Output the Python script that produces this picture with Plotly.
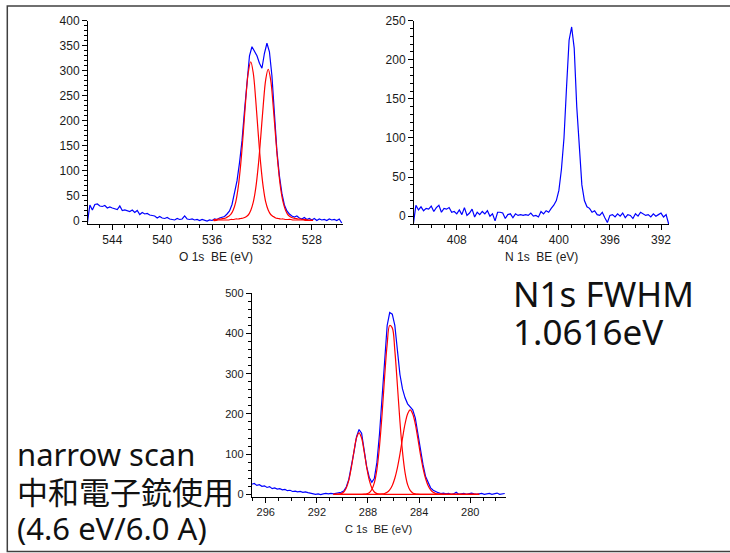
import plotly.graph_objects as go

# ---- O 1s narrow scan (BE in eV, counts) ----
o1s_be = [546.0, 545.8, 545.6, 545.4, 545.2, 545.0, 544.8, 544.6, 544.4, 544.2,
          544.0, 543.8, 543.6, 543.4, 543.2, 543.0, 542.8, 542.6, 542.4, 542.2,
          542.0, 541.8, 541.6, 541.4, 541.2, 541.0, 540.8, 540.6, 540.4, 540.2,
          540.0, 539.8, 539.6, 539.4, 539.2, 539.0, 538.8, 538.6, 538.4, 538.2,
          538.0, 537.8, 537.6, 537.4, 537.2, 537.0, 536.8, 536.6, 536.4, 536.2,
          536.0, 535.8, 535.6, 535.4, 535.2, 535.0, 534.8, 534.6, 534.4, 534.2,
          534.0, 533.8, 533.6, 533.4, 533.2, 533.0, 532.8, 532.6, 532.4, 532.2,
          532.0, 531.8, 531.6, 531.4, 531.2, 531.0, 530.8, 530.6, 530.4, 530.2,
          530.0, 529.8, 529.6, 529.4, 529.2, 529.0, 528.8, 528.6, 528.4, 528.2,
          528.0, 527.8, 527.6, 527.4, 527.2, 527.0, 526.8, 526.6, 526.4, 526.2,
          526.0, 525.8, 525.6]
o1s_cps = [-4, 32, 22, 33, 34, 30, 29, 31, 26, 28,
           26, 24, 23, 30, 21, 22, 20, 19, 22, 17,
           21, 13, 17, 14, 15, 12, 11, 10, 6, 9,
           6, 5, 7, 4, 3, 2, 5, 3, 4, 10,
           4, 3, 4, 2, 3, 1, 3, 2, 0, 2,
           1, 4, 3, 6, 7, 9, 14, 20, 33, 55,
           80, 116, 160, 220, 280, 330, 348, 340, 330, 315,
           305, 335, 355, 338, 290, 215, 140, 90, 55, 32,
           20, 14, 10, 8, 10, 6, 4, 7, 3, 5,
           2, 5, 1, 4, 2, 3, 1, 4, 2, 3,
           1, 4, -4]

o1s_fit_be = [535.9, 535.7, 535.5, 535.3, 535.1, 534.9, 534.7, 534.5, 534.3, 534.1,
              533.9, 533.7, 533.5, 533.3, 533.1, 532.9, 532.7, 532.5, 532.3, 532.1,
              531.9, 531.7, 531.5, 531.3, 531.1, 530.9, 530.7, 530.5, 530.3, 530.1,
              529.9, 529.7, 529.5, 529.3, 529.1, 528.9, 528.7, 528.5, 528.3, 528.1,
              527.9]
o1s_fit_1 = [3, 3, 4, 4, 5, 6, 9, 13, 22, 38,
             68, 114, 175, 242, 296, 318, 296, 242, 175, 114,
             68, 38, 22, 13, 9, 6, 5, 4, 4, 3,
             3, 3, 2, 2, 2, 2, 2, 1, 1, 1,
             1]
o1s_fit_2 = [1, 1, 2, 2, 2, 2, 2, 3, 3, 4,
             4, 5, 6, 8, 12, 21, 37, 65, 109, 167,
             230, 282, 303, 282, 230, 167, 109, 65, 37, 21,
             12, 8, 6, 5, 4, 4, 3, 3, 2, 2,
             2]

# ---- N 1s narrow scan ----
n1s_be = [411.4, 411.2, 411.0, 410.8, 410.6, 410.4, 410.2, 410.0, 409.8, 409.6,
          409.4, 409.2, 409.0, 408.8, 408.6, 408.4, 408.2, 408.0, 407.8, 407.6,
          407.4, 407.2, 407.0, 406.8, 406.6, 406.4, 406.2, 406.0, 405.8, 405.6,
          405.4, 405.2, 405.0, 404.8, 404.6, 404.4, 404.2, 404.0, 403.8, 403.6,
          403.4, 403.2, 403.0, 402.8, 402.6, 402.4, 402.2, 402.0, 401.8, 401.6,
          401.4, 401.2, 401.0, 400.8, 400.6, 400.4, 400.2, 400.0, 399.8, 399.6,
          399.4, 399.2, 399.0, 398.8, 398.6, 398.4, 398.2, 398.0, 397.8, 397.6,
          397.4, 397.2, 397.0, 396.8, 396.6, 396.4, 396.2, 396.0, 395.8, 395.6,
          395.4, 395.2, 395.0, 394.8, 394.6, 394.4, 394.2, 394.0, 393.8, 393.6,
          393.4, 393.2, 393.0, 392.8, 392.6, 392.4, 392.2, 392.0, 391.8, 391.6,
          391.4]
n1s_cps = [-10, 14, 8, 12, 7, 10, 9, 13, 6, 11,
           14, 5, 10, 9, 11, 5, 6, 3, 8, 2,
           11, 1, 4, 9, -1, 5, 2, 6, 3, 7,
           0, 3, -6, 5, 5, 4, -3, 2, 3, -2,
           3, 1, 2, 1, 2, 1, 4, 0, 1, -1,
           6, 3, 7, 5, 10, 14, 20, 33, 60, 100,
           165, 225, 242, 215, 140, 82, 40, 20, 12, 10,
           5, 7, 2, 1, 5, -2, -8, 1, 2, -1,
           3, 0, 4, -2, 2, 1, -3, 3, 0, 5,
           3, 1, 2, -1, 3, 0, 2, 4, -1, 2,
           -10]

# ---- C 1s narrow scan ----
c1s_be = [297.1, 296.9, 296.7, 296.5, 296.3, 296.1, 295.9, 295.7, 295.5, 295.3,
          295.1, 294.9, 294.7, 294.5, 294.3, 294.1, 293.9, 293.7, 293.5, 293.3,
          293.1, 292.9, 292.7, 292.5, 292.3, 292.1, 291.9, 291.7, 291.5, 291.3,
          291.1, 290.9, 290.7, 290.5, 290.3, 290.1, 289.9, 289.7, 289.5, 289.3,
          289.1, 288.9, 288.7, 288.5, 288.3, 288.1, 287.9, 287.7, 287.5, 287.3,
          287.1, 286.9, 286.7, 286.5, 286.3, 286.1, 285.9, 285.7, 285.5, 285.3,
          285.1, 284.9, 284.7, 284.5, 284.3, 284.1, 283.9, 283.7, 283.5, 283.3,
          283.1, 282.9, 282.7, 282.5, 282.3, 282.1, 281.9, 281.7, 281.5, 281.3,
          281.1, 280.9, 280.7, 280.5, 280.3, 280.1, 279.9, 279.7, 279.5, 279.3,
          279.1, 278.9, 278.7, 278.5, 278.3, 278.1, 277.9, 277.7, 277.5, 277.3]
c1s_cps = [25, 27, 22, 24, 20, 21, 17, 19, 14, 16,
           13, 14, 11, 12, 9, 10, 7, 8, 6, 7,
           5, 6, 4, 3, 2, 0, 1, -1, 1, 2,
           1, 2, 1, 2, 3, 5, 8, 18, 37, 68,
           105, 143, 161, 152, 112, 68, 42, 30, 40, 80,
           150, 245, 340, 420, 452, 448, 420, 360, 298, 262,
           240, 225, 216, 210, 190, 150, 110, 75, 45, 28,
           16, 10, 6, 4, 2, 3, 1, 2, 0, 1,
           5, 0, 1, 2, 0, 1, 3, 1, 0, 1,
           2, 0, 1, 2, 0, 1, 3, 0, 1, 2]

c1s_fit_be = [290.7, 290.5, 290.3, 290.1, 289.9, 289.7, 289.5, 289.3, 289.1, 288.9,
              288.7, 288.5, 288.3, 288.1, 287.9, 287.7, 287.5, 287.3, 287.1, 286.9,
              286.7, 286.5, 286.3, 286.1, 285.9, 285.7, 285.5, 285.3, 285.1, 284.9,
              284.7, 284.5, 284.3, 284.1, 283.9, 283.7, 283.5, 283.3, 283.1, 282.9,
              282.7, 282.5, 282.3, 282.1, 281.9, 281.7, 281.5, 281.3, 281.1, 280.9,
              280.7, 280.5, 280.3, 280.1, 279.9, 279.7, 279.5, 279.3]
c1s_fit_1 = [0, 0.1, 0.4, 1.7, 5.6, 15.5, 35, 67, 106, 140,
             153, 140, 106, 67, 35, 15.5, 5.6, 1.7, 0.4, 0.1,
             0, 0, 0, 0, 0, 0, 0, 0, 0, 0,
             0, 0, 0, 0, 0, 0, 0, 0, 0, 0,
             0, 0, 0, 0, 0, 0, 0, 0, 0, 0,
             0, 0, 0, 0, 0, 0, 0, 0]
c1s_fit_2 = [0, 0, 0, 0, 0, 0, 0, 0, 0, 0,
             0, 0, 0.3, 1.3, 4, 12, 29, 62, 119, 198,
             291, 373, 420, 414, 358, 272, 181, 106, 54, 24,
             9.6, 3.3, 1.0, 0.3, 0, 0, 0, 0, 0, 0,
             0, 0, 0, 0, 0, 0, 0, 0, 0, 0,
             0, 0, 0, 0, 0, 0, 0, 0]
c1s_fit_3 = [0, 0, 0, 0, 0, 0, 0, 0, 0, 0,
             0, 0, 0, 0, 0, 0, 0, 0, 0.3, 0.8,
             2, 5, 11, 22, 40, 66, 100, 139, 175, 200,
             210, 200, 175, 139, 100, 66, 40, 22, 11, 5,
             2, 0.8, 0.3, 0, 0, 0, 0, 0, 0, 0,
             0, 0, 0, 0, 0, 0, 0, 0]

BLUE = "#0000ff"
RED = "#ff0000"
W, H = 730, 553

fig = go.Figure()

# raw spectra first, fitted components on top
fig.add_trace(go.Scatter(x=o1s_be, y=o1s_cps, mode="lines", line=dict(color=BLUE, width=1.2), xaxis="x", yaxis="y"))
for comp in (o1s_fit_1, o1s_fit_2):
    fig.add_trace(go.Scatter(x=o1s_fit_be, y=comp, mode="lines", line=dict(color=RED, width=1.2, shape="spline"),
                             xaxis="x", yaxis="y"))

fig.add_trace(go.Scatter(x=n1s_be, y=n1s_cps, mode="lines", line=dict(color=BLUE, width=1.2), xaxis="x2", yaxis="y2"))

fig.add_trace(go.Scatter(x=c1s_be, y=c1s_cps, mode="lines", line=dict(color=BLUE, width=1.2), xaxis="x3", yaxis="y3"))
for comp in (c1s_fit_1, c1s_fit_2, c1s_fit_3):
    fig.add_trace(go.Scatter(x=c1s_fit_be, y=comp, mode="lines", line=dict(color=RED, width=1.2, shape="spline"),
                             xaxis="x3", yaxis="y3"))

tick_font = dict(family="Liberation Sans, Arial, sans-serif", size=12, color="#1a1a1a")


def px_dom(a, b):
    return [a / W, b / W]


def py_dom(top, bottom):
    return [1 - bottom / H, 1 - top / H]


def xax(dom, rng, tick0, anchor, size=12):
    return dict(domain=dom, range=rng, anchor=anchor, tick0=tick0, dtick=4, automargin=False,
                showline=True, linecolor="#000", linewidth=1, ticks="outside", ticklen=5,
                tickcolor="#000", showgrid=False, zeroline=False,
                tickfont=dict(tick_font, size=size),
                minor=dict(ticks="outside", ticklen=3, dtick=1, tick0=tick0, tickcolor="#000", showgrid=False))


def yax(dom, rng, dtick, mdtick, anchor, size=12):
    return dict(domain=dom, range=rng, anchor=anchor, tick0=0, dtick=dtick, automargin=False,
                showline=True, linecolor="#000", linewidth=1, ticks="outside", ticklen=5,
                tickcolor="#000", showgrid=False, zeroline=False,
                tickfont=dict(tick_font, size=size),
                minor=dict(ticks="outside", ticklen=3, dtick=mdtick, tick0=0, tickcolor="#000", showgrid=False))


fig.update_layout(
    width=W, height=H,
    margin=dict(l=0, r=0, t=0, b=0, autoexpand=False),
    paper_bgcolor="white", plot_bgcolor="white",
    showlegend=False,
    xaxis=xax(px_dom(88, 343), [545.95, 525.5], 528, "y"),
    yaxis=yax(py_dom(20.7, 224), [-6, 400], 50, 10, "x"),
    xaxis2=xax(px_dom(414, 669.3), [411.35, 391.35], 392, "y2"),
    yaxis2=yax(py_dom(20.7, 224), [-10, 250], 50, 10, "x2"),
    xaxis3=xax(px_dom(251.7, 506), [297.1, 277.2], 280, "y3", size=11),
    yaxis3=yax(py_dom(293.3, 496.7), [-6, 500], 100, 20, "x3", size=11),
)

# axis titles placed under each panel
axis_titles = [
    ("O 1s  BE (eV)", 215.5, 256.5, 12),
    ("N 1s  BE (eV)", 541.6, 256.5, 12),
    ("C 1s  BE (eV)", 378.9, 528.5, 11),
]
for txt, x, y, size in axis_titles:
    fig.add_annotation(text=txt, xref="paper", yref="paper", x=x / W, y=1 - y / H,
                       xanchor="center", yanchor="middle", showarrow=False,
                       font=dict(tick_font, size=size))

# slide frame
fig.add_shape(type="rect", xref="paper", yref="paper",
              x0=7.3 / W, x1=1.02, y0=1 - 551.5 / H, y1=1 - 6 / H,
              line=dict(color="#404040", width=1.5), layer="below")

big_font = dict(family="Noto Sans, Noto Sans CJK JP, sans-serif", color="#111111")
notes = [
    ("N1s FWHM", 511, 294, 35),
    ("1.0616eV", 511, 331, 35),
    ("narrow scan", 15, 454, 31),
    ("中和電子銃使用", 15, 491.5, 31),
    ("(4.6 eV/6.0 A)", 15, 528, 31),
]
for txt, x, y, size in notes:
    fig.add_annotation(text=txt, xref="paper", yref="paper", x=x / W, y=1 - y / H,
                       xanchor="left", yanchor="middle", showarrow=False,
                       font=dict(big_font, size=size))

fig.write_html("out.html", config={"displayModeBar": False},
               post_script="document.body.style.margin='0';")
